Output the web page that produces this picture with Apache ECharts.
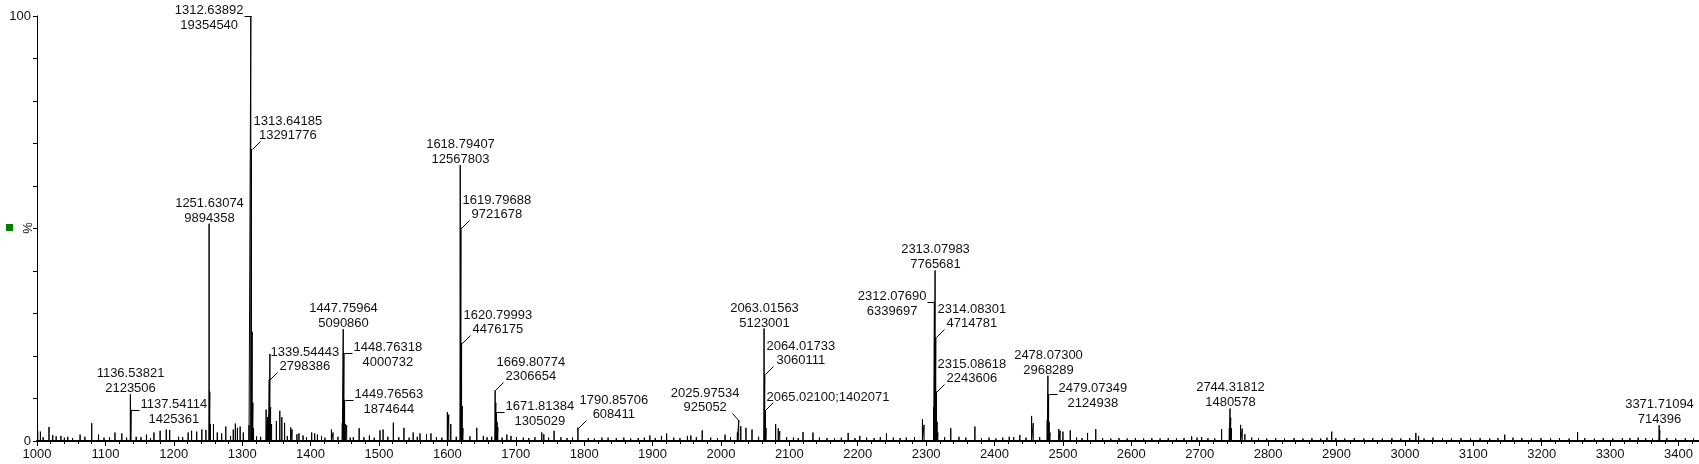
<!DOCTYPE html>
<html lang="en">
<head>
    <meta charset="UTF-8">
    <title>Mass spectrum</title>
    <script src="https://cdn.jsdelivr.net/npm/echarts@6.0.0/dist/echarts.min.js"></script>
    <style>
        html, body { margin: 0; padding: 0; background: #fff; }
    </style>
</head>
<body>
    <div id="main" style="width: 1699px; height: 464px;"></div>
    <script type="text/javascript">
        // labelled peaks: m/z and absolute intensity (counts)
        const labeledMz = [1136.53821, 1137.54114, 1251.63074, 1312.63892, 1313.64185, 1339.54443,
            1447.75964, 1448.76318, 1449.76563, 1618.79407, 1619.79688, 1620.79993, 1669.80774,
            1671.81384, 1790.85706, 2025.97534, 2063.01563, 2064.01733, 2065.02100, 2312.07690,
            2313.07983, 2314.08301, 2315.08618, 2478.07300, 2479.07349, 2744.31812, 3371.71094];
        const labeledIntensity = [2123506, 1425361, 9894358, 19354540, 13291776, 2798386,
            5090860, 4000732, 1874644, 12567803, 9721678, 4476175, 2306654,
            1305029, 608411, 925052, 5123001, 3060111, 1402071, 6339697,
            7765681, 4714781, 2243606, 2968289, 2124938, 1480578, 714396];
        // where each label sits relative to its peak
        const labelModes = ['top', 'hr', 'top', 'hl', 'dr', 'dr',
            'top', 'hr', 'hr', 'top', 'dr', 'dr', 'dr',
            'hr', 'dr', 'dl', 'top', 'dr', 'one', 'hl',
            'top', 'dr', 'dr', 'top', 'hr', 'top', 'top'];

        // unlabelled peaks (relative intensity, %)
        const minorMz = [1001, 1005, 1017.5, 1023, 1035, 1045, 1063, 1080, 1090, 1114, 1124, 1160, 1171, 1180,
            1189, 1194, 1221, 1226, 1233.5, 1241, 1247, 1252.63, 1253.63, 1258, 1263.6, 1270, 1276, 1287, 1290,
            1293, 1297, 1301.6, 1310, 1314.64, 1315.64, 1316.64, 1335, 1337, 1338.54, 1340.55, 1341.55, 1343,
            1350, 1355, 1358, 1362, 1371, 1373, 1380, 1383, 1389, 1401.6, 1406, 1410, 1416, 1430.5, 1433,
            1446.4, 1450.77, 1452.8, 1462.5, 1471, 1486, 1501.5, 1506, 1521, 1536.5, 1550, 1560, 1569.5, 1576,
            1600, 1602, 1605, 1621.8, 1622.8, 1643, 1652.6, 1664.8, 1670.81, 1672.82, 1673.82, 1687, 1693,
            1711, 1728, 1738, 1741, 1756, 1835, 1896, 1913, 1920.6, 1951, 1956, 1972.6, 2006, 2024, 2029,
            2036.6, 2045.4, 2066.02, 2080, 2083.8, 2086, 2120, 2134.5, 2186, 2203, 2242, 2294.6, 2297,
            2311.07, 2316.09, 2317.1, 2336, 2348, 2371.3, 2421.5, 2437, 2454.2, 2456.6, 2477.07, 2480.07,
            2481.08, 2494, 2496, 2500, 2510.7, 2536, 2548, 2688.2, 2702.8, 2732, 2743.3, 2745.32, 2746.32,
            2759.8, 2762.2, 2766, 2893, 3016, 3020, 3146, 3252.5, 3329, 3372.71];
        const minorPct = [2.4, 2.2, 3.3, 1.4, 1.2, 1.0, 1.5, 4.2, 1.5, 2.0, 1.8, 1.5, 2.0, 2.4,
            2.7, 2.6, 2.0, 2.4, 2.2, 2.7, 2.6, 11.6, 4.0, 4.0, 2.0, 1.8, 3.4, 2.7, 4.1,
            3.1, 3.4, 2.0, 3.7, 25.7, 9.0, 3.0, 7.4, 5.6, 6.0, 20.5, 8.0, 4.0,
            4.7, 7.1, 5.6, 4.3, 3.2, 2.7, 1.6, 1.8, 1.3, 2.0, 1.8, 1.5, 1.2, 2.7, 2.0,
            4.2, 4.0, 3.7, 0.9, 3.0, 1.3, 2.5, 2.7, 4.3, 3.1, 2.0, 1.8, 1.6, 1.8,
            6.8, 6.2, 4.0, 8.2, 3.0, 3.1, 1.2, 1.0, 9.0, 4.5, 3.2, 1.5, 1.2,
            0.8, 0.9, 2.0, 1.6, 2.4, 0.8, 1.3, 1.2, 1.8, 1.2, 1.3, 2.5, 1.5, 2.0, 3.5,
            3.1, 2.7, 3.0, 4.0, 3.0, 2.3, 2.1, 2.0, 1.9, 1.2, 1.8, 5.1, 3.8,
            8.0, 4.5, 2.0, 3.0, 1.0, 3.4, 1.0, 1.4, 5.9, 4.2, 5.0, 4.5,
            2.0, 2.8, 2.4, 2.2, 2.5, 1.9, 2.8, 1.1, 0.9, 2.8, 3.0, 5.5, 3.0,
            3.8, 2.9, 1.6, 2.2, 1.9, 1.2, 1.5, 2.1, 0.7, 2.5];

        // baseline noise spikes seen along the trace (%)
        const noiseMz = [1009, 1028, 1040, 1052, 1070, 1098, 1106, 1131, 1145, 1152, 1166, 1207, 1213,
            1283, 1321, 1327, 1366, 1394, 1421, 1440, 1458, 1478, 1493, 1513, 1529, 1544, 1556, 1584,
            1592, 1613, 1633, 1658, 1680, 1701, 1719, 1748, 1766, 1775, 1783, 1806, 1815, 1826, 1847,
            1858, 1868, 1879, 1888, 1904, 1931, 1940, 1964, 1985, 1995, 2014, 2055, 2096, 2106, 2113,
            2144, 2155, 2166, 2176, 2196, 2213, 2224, 2233, 2252, 2262, 2271, 2283, 2327, 2358, 2381,
            2392, 2402, 2412, 2428, 2446, 2466, 2520, 2528, 2558, 2570, 2582, 2594, 2606, 2618, 2630,
            2642, 2654, 2666, 2677, 2696, 2712, 2722, 2776, 2786, 2798, 2811, 2824, 2838, 2851, 2864,
            2877, 2886, 2899, 2912, 2926, 2940, 2953, 2967, 2981, 2994, 3007, 3028, 3041, 3055, 3068,
            3082, 3096, 3110, 3124, 3136, 3158, 3171, 3185, 3199, 3213, 3226, 3240, 3263, 3277, 3290,
            3304, 3318, 3341, 3352, 3362, 3383, 3396, 3410, 3422];
        const noisePct = [0.9, 1.1, 0.8, 0.7, 1.0, 0.8, 0.9, 0.8, 1.0, 0.9, 0.7, 1.0, 0.9,
            1.2, 1.1, 1.0, 1.2, 0.9, 0.8, 1.0, 0.8, 0.9, 0.8, 1.0, 0.9, 0.8, 1.0, 0.9,
            0.8, 1.0, 1.1, 0.9, 0.8, 0.9, 0.7, 0.8, 0.9, 0.7, 0.8, 0.7, 0.6, 0.8, 0.7,
            0.8, 0.6, 0.7, 0.8, 0.7, 0.8, 0.7, 0.9, 0.8, 0.7, 0.9, 1.0, 0.9, 0.8, 0.7,
            0.8, 0.7, 0.6, 0.8, 0.7, 0.8, 0.7, 0.9, 0.8, 0.7, 0.8, 0.9, 0.9, 0.8, 0.7,
            0.8, 0.6, 0.8, 0.9, 0.8, 0.9, 0.8, 0.7, 0.7, 0.6, 0.7, 0.6, 0.7, 0.6, 0.7,
            0.6, 0.7, 0.6, 0.7, 0.8, 0.7, 0.6, 0.8, 0.7, 0.6, 0.7, 0.6, 0.7, 0.6, 0.7,
            0.6, 0.8, 0.7, 0.6, 0.7, 0.6, 0.7, 0.6, 0.7, 0.6, 0.7, 0.6, 0.8, 0.7, 0.6,
            0.7, 0.6, 0.7, 0.6, 0.7, 0.8, 0.7, 0.6, 0.7, 0.6, 0.7, 0.6, 0.7, 0.6, 0.7,
            0.6, 0.7, 0.8, 0.7, 0.6, 0.7, 0.6, 0.7, 0.6];

        const xTicks = { min: 1000, max: 3430, step: 100 };
        const yTicks = { min: 0, max: 100, step: 10 };

        const FONT_FAMILY = '"Liberation Sans", Arial, sans-serif';
        const LABEL_FONT = '13px ' + FONT_FAMILY;
        const TEXT_COLOR = '#111';
        const LH = 14.5;

        const basePeak = Math.max(...labeledIntensity);
        const labeledPct = labeledIntensity.map(v => v / basePeak * 100);

        // stick spectrum: each peak is up and back down to zero
        const peaks = labeledMz.map((m, i) => [m, labeledPct[i]])
            .concat(minorMz.map((m, i) => [m, minorPct[i]]))
            .concat(noiseMz.map((m, i) => [m, noisePct[i]]))
            .sort((a, b) => a[0] - b[0]);
        const spectrum = [];
        peaks.forEach(p => {
            spectrum.push([p[0], 0], [p[0], p[1]], [p[0], 0]);
        });

        const measure = document.createElement('canvas').getContext('2d');
        measure.font = LABEL_FONT;
        const textW = s => measure.measureText(s).width;

        function txt(text, x, y, align) {
            return {
                type: 'text', x: x, y: y,
                style: { text: text, font: LABEL_FONT, fill: TEXT_COLOR, align: align, verticalAlign: 'middle' }
            };
        }
        function seg(x1, y1, x2, y2) {
            return {
                type: 'polyline',
                shape: { points: [[x1, y1], [x2, y2]] },
                style: { stroke: '#000', lineWidth: 1, fill: null }
            };
        }

        // peak annotations, placed the way the instrument software does it
        function renderLabel(params, api) {
            const i = params.dataIndex;
            const p = api.coord([api.value(0), api.value(1)]);
            const x = Math.round(p[0]) + 0.5, y = Math.round(p[1]) + 0.5;
            const l1 = labeledMz[i].toFixed(5);
            const l2 = String(labeledIntensity[i]);
            const w1 = textW(l1);
            const kids = [];
            switch (labelModes[i]) {
                case 'top':
                    kids.push(txt(l1, x, y - 6.5 - LH, 'center'), txt(l2, x, y - 6.5, 'center'));
                    break;
                case 'hr':
                    kids.push(seg(x, y, x + 8, y));
                    kids.push(txt(l1, x + 9, y - 6, 'left'), txt(l2, x + 9 + w1 / 2, y - 6 + LH, 'center'));
                    break;
                case 'hl':
                    kids.push(seg(x, y, x - 7, y));
                    kids.push(txt(l1, x - 8, y - 6, 'right'), txt(l2, x - 8 - w1 / 2, y - 6 + LH, 'center'));
                    break;
                case 'dr':
                    kids.push(seg(x, y, x + 8, y - 8));
                    kids.push(txt(l1, x + 1, y - 14 - LH, 'left'), txt(l2, x + 1 + w1 / 2, y - 14, 'center'));
                    break;
                case 'dl':
                    kids.push(seg(x, y, x - 7, y - 8));
                    kids.push(txt(l1, x, y - 14 - LH, 'right'), txt(l2, x - w1 / 2, y - 14, 'center'));
                    break;
                case 'one':
                    kids.push(seg(x, y, x + 8, y - 8));
                    kids.push(txt(l1 + ';' + l2, x + 1, y - 13.5, 'left'));
                    break;
            }
            return { type: 'group', children: kids };
        }

        let myChart = echarts.init(document.getElementById('main'), null, { renderer: 'canvas' });

        const axisText = { color: '#111', fontSize: 13, fontFamily: FONT_FAMILY };

        const options = {
            animation: false,
            grid: { left: 37, right: 0, top: 16, bottom: 23, containLabel: false, outerBoundsMode: 'none' },
            xAxis: {
                type: 'value',
                min: xTicks.min, max: xTicks.max, interval: xTicks.step,
                splitLine: { show: false },
                axisLine: { show: true, onZero: false, lineStyle: { color: '#000', width: 2 } },
                axisTick: { show: true, length: 5, lineStyle: { color: '#000' } },
                minorTick: { show: true, splitNumber: 5, length: 3, lineStyle: { color: '#000' } },
                axisLabel: Object.assign({
                    margin: 7, showMaxLabel: false,
                    formatter: v => (v % 100 === 0 ? String(v) : '')
                }, axisText)
            },
            yAxis: {
                type: 'value',
                min: yTicks.min, max: yTicks.max, interval: yTicks.step,
                splitLine: { show: false },
                axisLine: { show: true, lineStyle: { color: '#000', width: 1 } },
                axisTick: { show: true, length: 4, lineStyle: { color: '#000' } },
                axisLabel: Object.assign({
                    margin: 6,
                    formatter: v => (v === 0 || v === 100 ? String(v) : '')
                }, axisText)
            },
            graphic: [{
                type: 'rect', left: 6, top: 224,
                shape: { width: 7, height: 7 },
                style: { fill: '#008000' }
            }, {
                type: 'text', x: 28, y: 228, rotation: Math.PI / 2,
                style: { text: '%', font: LABEL_FONT, fill: TEXT_COLOR, align: 'center', verticalAlign: 'middle' }
            }],
            series: [{
                name: 'spectrum',
                type: 'line',
                data: spectrum,
                showSymbol: false,
                symbol: 'none',
                lineStyle: { color: '#000', width: 1 },
                silent: true,
                z: 2
            }, {
                name: 'labels',
                type: 'custom',
                data: labeledMz.map((m, i) => [m, labeledPct[i]]),
                renderItem: renderLabel,
                clip: false,
                silent: true,
                z: 3
            }]
        };

        myChart.setOption(options);
    </script>
</body>
</html>
